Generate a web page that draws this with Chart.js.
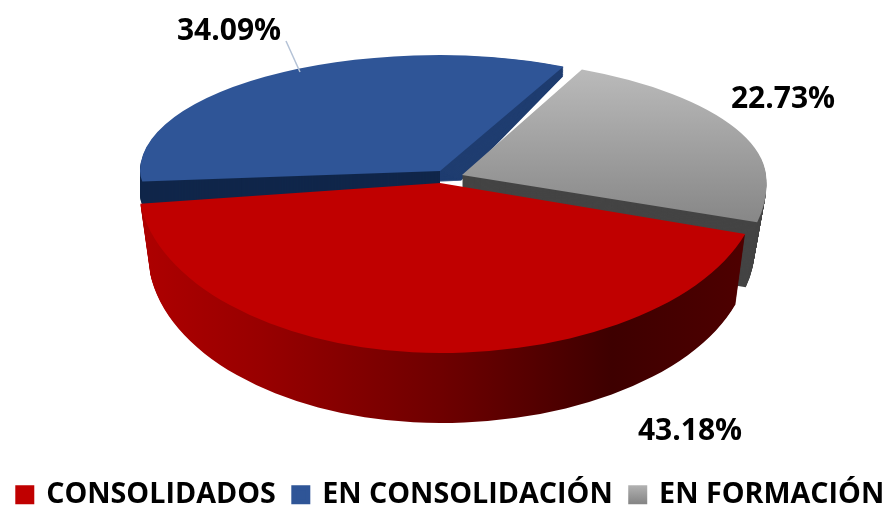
<!DOCTYPE html>
<html>
<head>
<meta charset="utf-8">
<style>
  html, body { margin: 0; padding: 0; background: #ffffff; }
  canvas { display: block; }
</style>
<script src="https://cdn.jsdelivr.net/npm/chart.js@4"></script>
</head>
<body>
<canvas id="graficoPastel" width="892" height="506"></canvas>
<script>
// Datos
const categorias = ["CONSOLIDADOS", "EN CONSOLIDACIÓN", "EN FORMACIÓN"];
const porcentajes = [43.18, 34.09, 22.73];

// Forma de cada porción en pantalla: vértice, radios por lado (perspectiva) y grosor
const formas = [
  { cx: 440, cy: 183, izq: 302, der: 320, arriba: 115, abajo: 170, grosor: 70, encoge: 10, cizalla: 0 },
  { cx: 440, cy: 171, izq: 300, der: 285, arriba: 116, abajo: 85, grosor: 0, encoge: 0, cizalla: 0 },
  { cx: 462, cy: 175, izq: 300, der: 304, arriba: 117, abajo: 157, grosor: 65, encoge: 12, cizalla: 0.112 }
];
const posicionesTexto = [[690, 431], [229, 31], [783, 99]];
const ordenDibujo = [1, 2, 0];

// Dibuja un arco de la librería por cuadrantes, cada uno con su propia escala
function dibujarArco(ctx, arco, f, desplazaY, reduce, color) {
  const R = arco.outerRadius;
  const cuadrantes = [
    [-1, -1, f.izq - reduce, f.arriba],
    [1, -1, f.der - reduce, f.arriba],
    [-1, 1, f.izq - reduce, f.abajo],
    [1, 1, f.der - reduce, f.abajo]
  ];
  const cy = f.cy + desplazaY;
  cuadrantes.forEach(function (q) {
    const sx = q[2] / R;
    const sy = q[3] / R;
    ctx.save();
    ctx.beginPath();
    ctx.rect(q[0] < 0 ? f.cx - 500 : f.cx, q[1] < 0 ? cy - 500 : cy, 500, 500);
    ctx.clip();
    ctx.translate(f.cx, cy);
    ctx.transform(1, 0, f.cizalla, 1, 0, 0);
    ctx.scale(sx, sy);
    ctx.translate(-arco.x, -arco.y);
    // pasa de pantalla a coordenadas del arco, para los degradados
    const aX = function (x) { return arco.x + (x - f.cx) / sx; };
    const aY = function (y) { return arco.y + (y - cy) / sy; };
    const relleno = typeof color === "function" ? color(ctx, aX, aY) : color;
    const copia = Object.create(arco);
    copia.options = Object.create(arco.options, { backgroundColor: { value: relleno } });
    arco.draw.call(copia, ctx);
    ctx.restore();
  });
}

function degradadoRojo(ctx, aX) {
  const g = ctx.createLinearGradient(aX(140), 0, aX(745), 0);
  g.addColorStop(0, "#ae0000");
  g.addColorStop(0.2, "#980000");
  g.addColorStop(0.5, "#6e0000");
  g.addColorStop(0.78, "#3e0000");
  g.addColorStop(1, "#4e0000");
  return g;
}

function degradadoGris(ctx, aX, aY) {
  const g = ctx.createLinearGradient(0, aY(70), 0, aY(225));
  g.addColorStop(0, "#bababa");
  g.addColorStop(1, "#868686");
  return g;
}

const coloresCara = ["#c00000", "#2f5597", degradadoGris];
const coloresLado = [degradadoRojo, "#1f3d70", "#444444"];

// Cortes de la porción azul: el derecho se abre hacia el vértice, el frontal es más oscuro
function dibujarCortesAzul(ctx, arco, f) {
  ctx.save();
  ctx.beginPath();
  ctx.rect(f.cx, 0, 452, 506);
  ctx.clip();
  for (let d = 14; d > 0; d--) {
    const capa = Object.assign({}, f, { cx: f.cx + d * 1.5, cy: f.cy + d * 0.7, der: f.der - d * 3.5 });
    dibujarArco(ctx, arco, capa, 0, 0, coloresLado[1]);
  }
  ctx.restore();
  ctx.save();
  ctx.beginPath();
  ctx.rect(0, 0, f.cx, 506);
  ctx.clip();
  for (let d = 24; d > 0; d--) {
    dibujarArco(ctx, arco, f, d, 0, "#10264a");
  }
  ctx.restore();
}

const pastel3d = {
  id: "pastel3d",
  beforeDatasetsDraw: function (chart) {
    const ctx = chart.ctx;
    const arcos = chart.getDatasetMeta(0).data;
    ordenDibujo.forEach(function (i) {
      const f = formas[i];
      for (let d = f.grosor; d > 0; d--) {
        dibujarArco(ctx, arcos[i], f, d, f.encoge * d / f.grosor, coloresLado[i]);
      }
      if (i === 1) {
        dibujarCortesAzul(ctx, arcos[i], f);
      }
      dibujarArco(ctx, arcos[i], f, 0, 0, coloresCara[i]);
    });
    return false;
  },
  afterDraw: function (chart) {
    const ctx = chart.ctx;
    ctx.save();
    // línea guía de la etiqueta azul
    ctx.strokeStyle = "#b4c2d6";
    ctx.lineWidth = 1.5;
    ctx.beginPath();
    ctx.moveTo(286, 41);
    ctx.lineTo(300, 72);
    ctx.stroke();
    ctx.fillStyle = "#000000";
    ctx.font = "bold 30px 'Open Sans'";
    ctx.textAlign = "center";
    ctx.textBaseline = "middle";
    porcentajes.forEach(function (v, i) {
      ctx.fillText(v.toFixed(2) + "%", posicionesTexto[i][0], posicionesTexto[i][1]);
    });
    ctx.restore();
  }
};

const canvas = document.getElementById("graficoPastel");
const grisLeyenda = canvas.getContext("2d").createLinearGradient(0, 482, 0, 503);
grisLeyenda.addColorStop(0, "#bababa");
grisLeyenda.addColorStop(1, "#868686");
const coloresLeyenda = ["#c00000", "#2f5597", grisLeyenda];

new Chart(canvas, {
  type: "pie",
  data: {
    labels: categorias,
    datasets: [
      {
        data: porcentajes,
        backgroundColor: coloresLeyenda,
        borderWidth: 0
      }
    ]
  },
  options: {
    responsive: false,
    animation: false,
    rotation: 107.5,
    layout: { padding: { left: -3.5, right: -13.5, bottom: -13 } },
    plugins: {
      legend: {
        position: "bottom",
        labels: {
          color: "#000000",
          boxWidth: 14,
          boxHeight: 14,
          padding: 18,
          font: { family: "'Open Sans'", size: 28.7, weight: "bold" },
          // el trazo del mismo color agranda el cuadro sin separar el texto
          generateLabels: function () {
            return categorias.map(function (nombre, i) {
              return {
                text: nombre,
                fillStyle: coloresLeyenda[i],
                strokeStyle: coloresLeyenda[i],
                lineWidth: 5,
                fontColor: "#000000",
                index: i
              };
            });
          }
        }
      },
      tooltip: { enabled: false }
    }
  },
  plugins: [pastel3d]
});
</script>
</body>
</html>
